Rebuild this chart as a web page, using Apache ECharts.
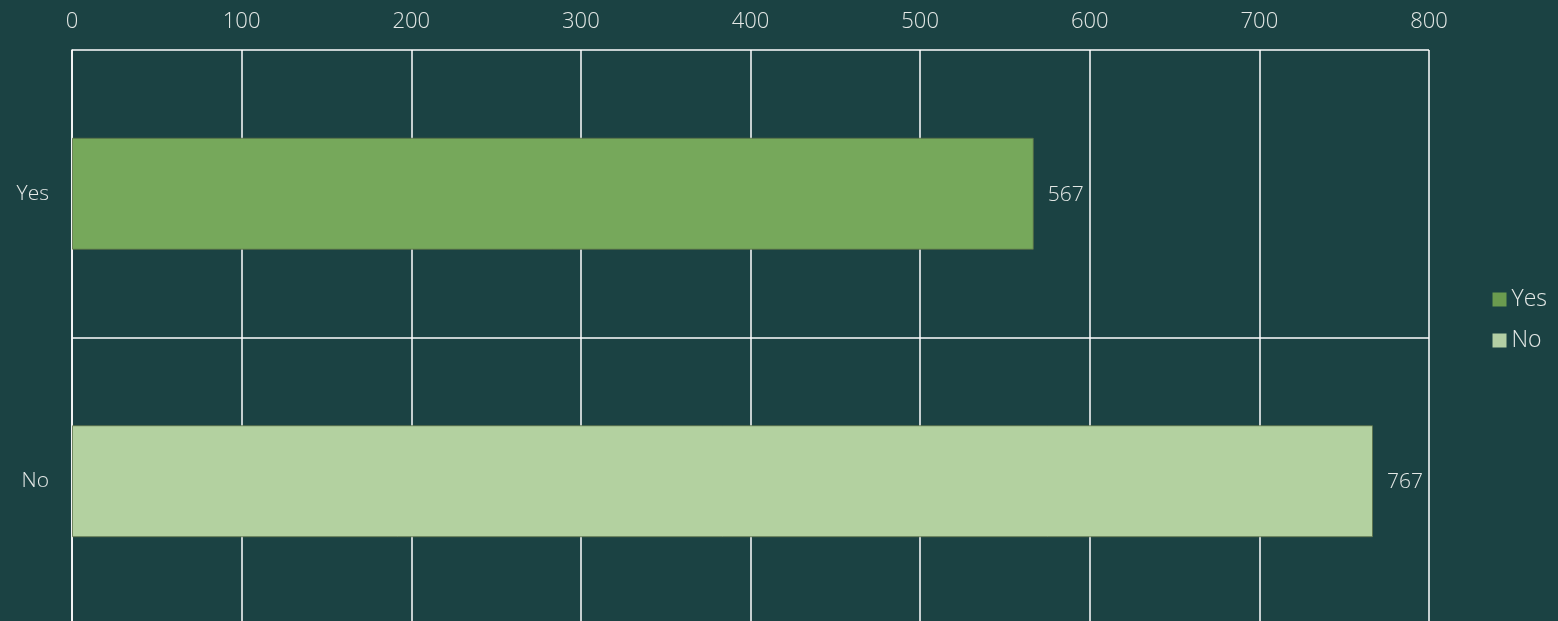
<!DOCTYPE html>
<html style="height: 100%">
<head>
  <meta charset="utf-8">
</head>
<body style="height: 100%; margin: 0; background: #1b4243">
  <div id="container" style="height: 100%"></div>

  <script type="text/javascript" src="https://cdn.jsdelivr.net/npm/echarts@6.0.0/dist/echarts.min.js"></script>
  <script type="text/javascript">
    var categories = ['Yes', 'No'];
    var values = [567, 767];
    var barColors = ['#76a85b', '#b3d1a0'];
    var legendColors = ['#6b9b4f', '#b3cfa4'];
    var xTicks = { min: 0, max: 800, interval: 100 };

    var dom = document.getElementById("container");
    var myChart = echarts.init(dom);

    var textColor = '#e4e8e6';
    var font = '"Open Sans", sans-serif';

    var series = categories.map(function (name, i) {
      var data = categories.map(function (c, j) { return j === i ? values[i] : '-'; });
      return {
        name: name,
        type: 'bar',
        stack: 'all',
        barWidth: 112,
        data: data,
        itemStyle: {
          color: barColors[i],
          borderColor: 'rgba(90,110,70,0.8)',
          borderWidth: 1
        },
        label: {
          show: true,
          position: 'right',
          distance: 14,
          color: textColor,
          fontFamily: font,
          fontSize: 21,
          fontWeight: 300,
          offset: [0, 1]
        }
      };
    });

    var option = {
      backgroundColor: '#1b4243',
      animation: false,
      legend: {
        orient: 'vertical',
        right: 6,
        top: 283,
        itemGap: 18,
        itemWidth: 14,
        itemHeight: 14,
        icon: 'rect',
        data: categories.map(function (c, i) {
          return { name: c, itemStyle: { color: legendColors[i], borderWidth: 0 } };
        }),
        textStyle: { color: textColor, fontFamily: font, fontSize: 23, fontWeight: 300 }
      },
      grid: {
        left: 72,
        width: 1357,
        top: 50,
        height: 575,
        outerBoundsMode: 'none'
      },
      xAxis: {
        type: 'value',
        position: 'top',
        min: xTicks.min,
        max: xTicks.max,
        interval: xTicks.interval,
        axisLine: { show: false },
        axisTick: { show: false },
        axisLabel: { color: textColor, fontFamily: font, fontSize: 22, fontWeight: 300, margin: 17 },
        splitLine: { show: true, lineStyle: { color: '#ffffff', width: 1.5 } }
      },
      yAxis: {
        type: 'category',
        inverse: true,
        data: categories,
        axisLine: { show: true, lineStyle: { color: '#ffffff', width: 1.5 } },
        axisTick: { show: false },
        axisLabel: { color: textColor, fontFamily: font, fontSize: 21, fontWeight: 300, margin: 23 },
        splitLine: { show: true, lineStyle: { color: '#ffffff', width: 1.5 } }
      },
      series: series
    };

    myChart.setOption(option);
  </script>
</body>
</html>
